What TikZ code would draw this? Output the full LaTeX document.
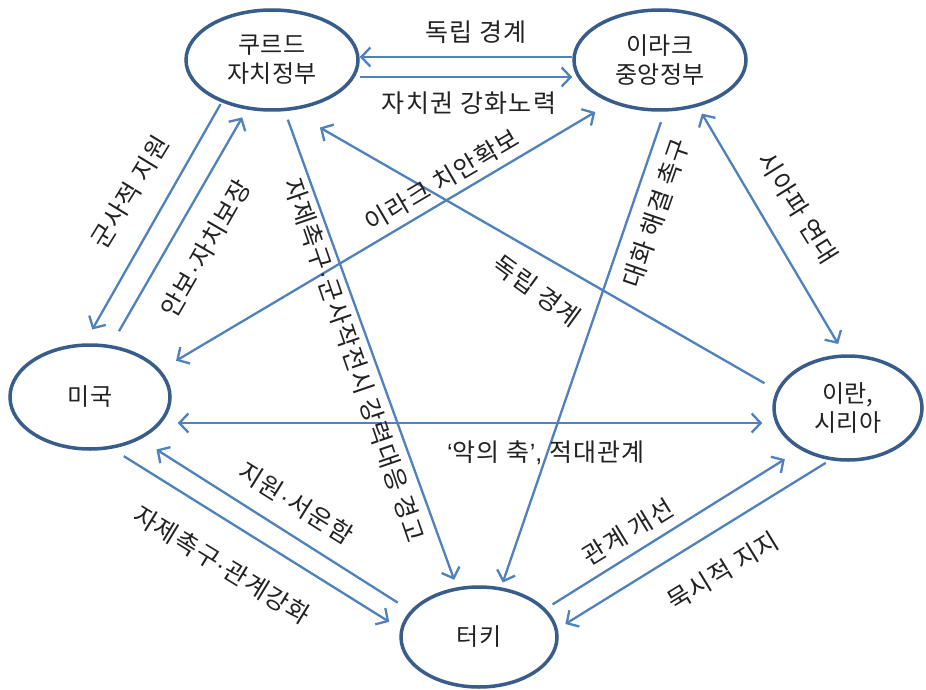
\documentclass[tikz,border=0pt]{standalone}
\usepackage{fontspec}
\setmainfont{Noto Sans CJK KR}
\newfontfamily\latinf{Liberation Sans}
\newcommand{\md}{{\latinf\kern1pt·\kern1pt}}
\usetikzlibrary{arrows.meta,shapes.geometric}
\definecolor{edgeblue}{HTML}{385D8A}
\definecolor{linkblue}{HTML}{4F81BD}
\definecolor{txt}{HTML}{222222}
\begin{document}
\begin{tikzpicture}[x=1pt,y=-1pt,
  country/.style 2 args={ellipse, draw=edgeblue, line width=3.5pt, fill=white,
     minimum width=#1, minimum height=#2, inner sep=0pt, align=center,
     text=txt, font=\fontsize{24}{29}\selectfont},
  lbl/.style={inner sep=0pt, text=txt, font=\fontsize{25}{29}\selectfont\addfontfeatures{LetterSpace=5}},
  arr/.style={draw=linkblue, line width=2.3pt, -{Straight Barb[length=9pt,width=19pt]}},
  arrb/.style={draw=linkblue, line width=2.3pt, {Straight Barb[length=9pt,width=19pt]}-{Straight Barb[length=9pt,width=19pt]}}]
\useasboundingbox[fill=white] (0,0) rectangle (926,690);

% countries
\node[country={172pt}{100pt}] (K) at (272,60) {쿠르드\\자치정부};
\node[country={172pt}{100pt}] (I) at (660,60) {이라크\\중앙정부};
\node[country={160pt}{104pt}] (U) at (90,397) {미국};
\node[country={148pt}{104pt}] (R) at (848,408) {이란,\\시리아};
\node[country={156pt}{100pt}] (T) at (479,637) {터키};

% connectors
\draw[arr] ([yshift=3pt]I.west) -- ([yshift=3pt]K.east);
\draw[arr] ([yshift=-17pt]K.east) -- ([yshift=-17pt]I.west);
\draw[arr, shorten <=2pt, shorten >=16pt] (K.220) -- (U.96);
\draw[arr, shorten <=16pt, shorten >=9pt] (U.68) -- (K.243);
\draw[arr, shorten <=9pt, shorten >=8pt] (K.-76) -- (T.114);
\draw[arrb, shorten <=18pt, shorten >=18pt] (U.21) -- (I.221);
\draw[arr, shorten <=11pt, shorten >=5pt] (I.-85) -- (T.66);
\draw[arrb, shorten <=8pt, shorten >=12pt] (I.-51) -- (R.94);
\draw[arrb] ([xshift=6pt,yshift=-26pt]U.east) -- ([xshift=-10pt,yshift=-15pt]R.west);
\draw[arr, shorten <=15pt, shorten >=19pt] (T.159) -- (U.-40);
\draw[arr, shorten <=14pt, shorten >=13pt] (U.-67) -- (T.174);
\draw[arr, shorten <=8pt, shorten >=18pt] (T.23) -- (R.221);
\draw[arr, shorten <=5pt, shorten >=9pt] (R.251) -- (T.6);
\draw[arr, shorten <=14pt, shorten >=34pt] (R.166) -- (K.-70);

% labels
\node[lbl] (l1) at (476,32) {독립 경계};
\node[lbl] (l2) at (469,103) {자치권 강화노력};
\node[lbl, rotate=58.6] (l3) at (130,192) {군사적 지원};
\node[lbl, rotate=60] (l4) at (206,248) {안보\md 자치보장};
\node[lbl, rotate=-71] (l5) at (355,360) {자제촉구\md 군사작전시 강력대응 경고};
\node[lbl, rotate=30.5] (l6) at (442,180) {이라크 치안확보};
\node[lbl, rotate=-36] (l7) at (537,291) {독립 경계};
\node[lbl, rotate=71] (l8) at (656,213) {대화 해결 촉구};
\node[lbl, rotate=-58] (l9) at (798,208) {시아파 연대};
\node[lbl] (l10) at (546,453) {{\latinf‘}악의 축{\latinf’,} 적대관계};
\node[lbl, rotate=-32] (l11) at (296,503) {지원\md 서운함};
\node[lbl, rotate=-31.5] (l12) at (222,565) {자제촉구\md 관계강화};
\node[lbl, rotate=31.5] (l13) at (628,532) {관계 개선};
\node[lbl, rotate=31.5] (l14) at (723,571) {묵시적 지지};
\end{tikzpicture}
\end{document}
